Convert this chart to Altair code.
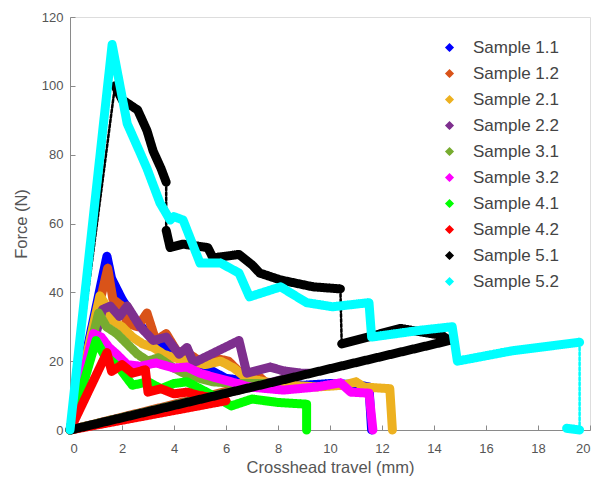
import altair as alt
import pandas as pd

samples = ["Sample 1.1", "Sample 1.2", "Sample 2.1", "Sample 2.2", "Sample 3.1",
           "Sample 3.2", "Sample 4.1", "Sample 4.2", "Sample 5.1", "Sample 5.2"]
colors = ["#0000FF", "#D95319", "#EDB120", "#7E2F8E", "#77AC30",
          "#FF00FF", "#00FF00", "#FF0000", "#000000", "#00FFFF"]

x_11 = [0, 1.42, 1.6, 2.0, 2.5, 3.0, 3.5, 4.0, 5.0, 6.0, 7.0, 8.0, 9.0, 10.0, 11.0, 11.5, 11.6]
y_11 = [0, 50.5, 44, 38, 32, 28, 25, 22, 19, 15, 14, 13.5, 13, 13.5, 13.2, 12.5, 0]

x_12 = [0, 1.45, 1.65, 2.0, 2.2, 2.6, 2.96, 3.3, 3.7, 4.1, 4.6, 5.0, 5.5, 6.1, 6.5, 7.2, 7.5, 0]
y_12 = [0, 47, 38, 36, 31, 30, 34, 26, 28, 23, 22, 20, 21, 20, 17, 16, 14, 0]

x_21 = [0, 1.15, 1.4, 1.6, 2.0, 2.4, 2.8, 3.2, 3.6, 4.0, 4.6, 5.2, 5.8, 6.3, 6.8, 7.5, 8.5, 9.5, 10.5, 11.0, 11.3, 12.3, 12.4]
y_21 = [0, 39, 36, 32, 30, 27, 25, 24, 22, 21, 20, 19, 20, 18, 15, 14, 13, 12.5, 13, 14, 12.5, 12, 0]

x_22 = [0, 1.25, 1.55, 1.9, 2.2, 2.7, 3.2, 3.7, 4.2, 4.5, 4.75, 6.5, 6.8, 7.7, 8.2, 8.9, 9.2, 0]
y_22 = [0, 35, 36, 33, 36, 30, 26, 27, 22, 24, 19.5, 26, 16.5, 18.3, 17.2, 16.5, 16.5, 0]

x_31 = [0, 1.1, 1.4, 1.8, 2.2, 2.6, 3.0, 3.4, 4.0, 4.5, 5.0, 5.5, 6.5, 7.5, 0]
y_31 = [0, 34, 30, 28, 25, 22, 20, 21, 18, 16, 15, 14, 13.5, 13.5, 0]

x_32 = [0, 0.9, 1.2, 1.5, 1.8, 2.2, 2.7, 3.3, 4.0, 4.5, 5.0, 5.5, 6.2, 6.9, 8.2, 9.5, 10.4, 10.8, 11.5, 11.65]
y_32 = [0, 28, 27, 24, 22, 19, 18.5, 19.5, 18, 18.3, 16.5, 15.4, 14, 12.5, 11.6, 12.5, 13.7, 11, 10.7, 0]

x_41 = [0, 1.0, 1.3, 1.9, 2.4, 3.0, 3.5, 4.0, 4.5, 5.0, 5.5, 6.2, 7.0, 8.0, 9.1, 9.1]
y_41 = [0, 26, 22, 18, 13, 14, 12, 13.5, 14, 12, 10, 7, 9, 8, 7.5, 0]

x_42 = [0, 1.42, 1.6, 2.0, 2.4, 2.9, 3.0, 3.5, 4.0, 4.5, 5.0, 6.0, 0]
y_42 = [0, 22.5, 17, 19, 16.5, 17.5, 11, 12, 10.5, 11, 10, 8.5, 0]

x_51 = [0, 1.73, 2.0, 2.6, 2.96, 3.2, 3.5, 3.7, 3.7, 3.85, 4.35, 5.3, 5.5, 6.5, 7.0, 7.3, 8.1, 9.35, 10.4, 10.45, 12.7, 14.3, 14.6, 0]
y_51 = [0, 100, 96, 93, 87, 81, 76, 72, 58, 53, 54, 53, 50, 51, 48, 45.6, 43.6, 41.6, 41, 25, 29.5, 27.5, 26, 0]

x_52 = [0, 1.62, 2.2, 2.7, 2.96, 3.46, 3.85, 4.0, 4.35, 5.0, 5.8, 6.5, 6.9, 8.1, 9.1, 10.1, 11.5, 11.6, 13.5, 14.7, 14.9, 17.0, 19.6, 19.6, 19.1]
y_52 = [0, 112, 89, 80.5, 76, 66, 61, 62, 61, 48.5, 48.5, 45.6, 38.7, 41.6, 37, 35.8, 37, 27, 29, 30, 20, 23, 25.5, 0, 0.5]

series_x = [x_11, x_12, x_21, x_22, x_31, x_32, x_41, x_42, x_51, x_52]
series_y = [y_11, y_12, y_21, y_22, y_31, y_32, y_41, y_42, y_51, y_52]

# segments (start index i -> i+1) where the markers are sparse, drawn thin
thin_segments = {"Sample 5.1": [0, 7, 18], "Sample 5.2": [22]}

rows = []
part = 0
for name, xs, ys in zip(samples, series_x, series_y):
    thin = thin_segments.get(name, [])
    run = []

    def flush(run, w):
        global part
        for k, j in enumerate(run):
            rows.append({"sample": name, "part": part, "w": w, "idx": k, "x": xs[j], "y": ys[j]})
        part += 1

    for i in range(len(xs) - 1):
        if i in thin:
            if len(run) > 1:
                flush(run, "thick")
            run = []
            flush([i, i + 1], "thin")
        else:
            if not run:
                run = [i]
            run.append(i + 1)
    if len(run) > 1:
        flush(run, "thick")
df = pd.DataFrame(rows)

FONT = "Liberation Sans"
AX = "#8a8a8a"
TXT = "#555555"

xscale = alt.Scale(domain=[0, 20], nice=False, zero=False)
yscale = alt.Scale(domain=[0, 120], nice=False, zero=False)
xticks = [0, 2, 4, 6, 8, 10, 12, 14, 16, 18, 20]
yticks = [0, 20, 40, 60, 80, 100, 120]

lines = alt.Chart(df).mark_line(strokeJoin="round", strokeCap="round").encode(
    x=alt.X("x:Q", scale=xscale,
            axis=alt.Axis(orient="bottom", values=xticks, offset=-5, domain=False, tickSize=5,
                          tickColor=AX, labelPadding=12, labelFontSize=13, labelColor=TXT,
                          labelFont=FONT, grid=False, title="Crosshead travel (mm)",
                          titleFont=FONT, titleFontSize=16.5, titleFontWeight="normal",
                          titleColor=TXT, titlePadding=4)),
    y=alt.Y("y:Q", scale=yscale,
            axis=alt.Axis(orient="left", values=yticks, offset=-5, domain=False, tickSize=5,
                          tickColor=AX, labelPadding=7, labelFontSize=13, labelColor=TXT,
                          labelFont=FONT, grid=False, title="Force (N)",
                          titleFont=FONT, titleFontSize=16.5, titleFontWeight="normal",
                          titleColor=TXT, titlePadding=12)),
    color=alt.Color("sample:N", scale=alt.Scale(domain=samples, range=colors),
                    legend=alt.Legend(title=None, orient="none", legendX=371, legendY=22,
                                      symbolType="diamond", symbolSize=12, symbolStrokeWidth=4,
                                      symbolDash=[1, 0],
                                      labelFont=FONT, labelFontSize=17, labelColor="#444444",
                                      rowPadding=5, labelOffset=15)),
    strokeWidth=alt.StrokeWidth("w:N", scale=alt.Scale(domain=["thick", "thin"], range=[9, 2.5]),
                                legend=None),
    strokeDash=alt.StrokeDash("w:N", scale=alt.Scale(domain=["thick", "thin"], range=[[1, 0], [3, 2]]),
                              legend=None),
    detail="part:N",
    order=alt.Order("idx:Q"),
)

frame = alt.Chart(df).mark_point(opacity=0).encode(
    x=alt.X("x:Q", scale=xscale,
            axis=alt.Axis(orient="bottom", domain=True, domainColor=AX, ticks=False,
                          labels=False, grid=False, title=None)),
    y=alt.Y("y:Q", scale=yscale,
            axis=alt.Axis(orient="left", domain=True, domainColor=AX, ticks=False,
                          labels=False, grid=False, title=None)),
)

chart = alt.layer(lines, frame).resolve_axis(x="independent", y="independent").properties(
    width=520, height=413,
    autosize=alt.AutoSizeParams(type="none"),
    padding={"left": 70, "top": 17, "right": 4, "bottom": 49},
).configure_view(stroke=None).configure(background="white")

chart.save("out.html", embed_options={"renderer": "svg", "actions": False})
